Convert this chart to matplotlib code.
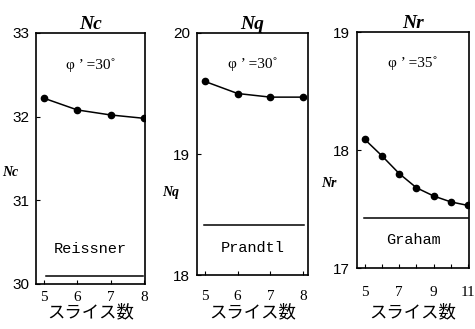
import matplotlib
matplotlib.use("Agg")
import matplotlib.pyplot as plt

# slice counts and bearing capacity factors
slices_c = [5, 6, 7, 8]
nc_vals = [32.22, 32.08, 32.02, 31.98]
nc_reissner = 30.09

slices_q = [5, 6, 7, 8]
nq_vals = [19.60, 19.50, 19.47, 19.47]
nq_prandtl = 18.41

slices_r = [5, 6, 7, 8, 9, 10, 11]
nr_vals = [18.09, 17.95, 17.80, 17.68, 17.61, 17.56, 17.53]
nr_graham = 17.42

xlabel = "スライス数"

panels = [
    dict(rect=[0.0758, 0.1368, 0.2295, 0.763], x=slices_c, y=nc_vals, ref=nc_reissner,
         ref_name="Reissner", ref_text_y=0.14, name="Nc", phi="φ ’ =30˚",
         ylim=(30, 33), yticks=[30, 31, 32, 33], xlim=(4.76, 8.03),
         xticks=[5, 6, 7, 8], xlabels=["5", "6", "7", "8"], ylab_pos=(-0.24, 0.446),
         line_x=(0.09, 0.98), xpad=5),
    dict(rect=[0.4147, 0.1641, 0.2337, 0.7356], x=slices_q, y=nq_vals, ref=nq_prandtl,
         ref_name="Prandtl", ref_text_y=0.11, name="Nq", phi="φ ’ =30˚",
         ylim=(18, 20), yticks=[18, 19, 20], xlim=(4.76, 8.15),
         xticks=[5, 6, 7, 8], xlabels=["5", "6", "7", "8"], ylab_pos=(-0.24, 0.343),
         line_x=(0.06, 0.96), xpad=11),
    dict(rect=[0.7516, 0.1854, 0.2358, 0.7173], x=slices_r, y=nr_vals, ref=nr_graham,
         ref_name="Graham", ref_text_y=0.12, name="Nr", phi="φ ’ =35˚",
         ylim=(17, 19), yticks=[17, 18, 19], xlim=(4.55, 11.05),
         xticks=[5, 6, 7, 8, 9, 10, 11], xlabels=["5", "", "7", "", "9", "", "11"],
         ylab_pos=(-0.25, 0.36), line_x=(0.06, 0.99), xpad=13),
]

fig = plt.figure(figsize=(4.75, 3.29), dpi=100)
jp = ["Noto Sans CJK JP", "DejaVu Sans"]
serif = "Liberation Serif"

for p in panels:
    ax = fig.add_axes(p["rect"])
    ax.plot(p["x"], p["y"], "-o", color="black", lw=1.1, ms=4.5)
    x0, x1 = p["xlim"]
    ax.plot([x0 + p["line_x"][0] * (x1 - x0), x0 + p["line_x"][1] * (x1 - x0)],
            [p["ref"], p["ref"]], color="black", lw=1.1)
    ax.set_xlim(*p["xlim"])
    ax.set_ylim(*p["ylim"])
    ax.set_xticks(p["xticks"])
    ax.set_xticklabels(p["xlabels"], fontfamily=serif, fontsize=11)
    ax.set_yticks(p["yticks"])
    ax.set_yticklabels([str(v) for v in p["yticks"]], fontfamily="Liberation Sans", fontsize=11)
    ax.tick_params(direction="in", length=3, width=0.8, pad=5)
    ax.tick_params(axis="x", pad=p["xpad"])
    for s in ax.spines.values():
        s.set_linewidth(1.2)
    ax.set_title(p["name"], fontfamily=serif, fontstyle="italic", fontweight="bold",
                 fontsize=14, pad=2)
    # x labels sit on one common line across the three panels
    cx = p["rect"][0] + p["rect"][2] / 2
    fig.text(cx, 0.05, xlabel, fontfamily=jp, fontsize=12.5, ha="center", va="center")
    ax.text(*p["ylab_pos"], p["name"], transform=ax.transAxes, fontfamily=serif,
            fontstyle="italic", fontweight="bold", fontsize=10, ha="center", va="center")
    ax.text(0.5, 0.87, p["phi"], transform=ax.transAxes, fontfamily=serif,
            fontsize=11, ha="center", va="center")
    ax.text(0.5, p["ref_text_y"], p["ref_name"], transform=ax.transAxes,
            fontfamily="Liberation Mono", fontsize=11, ha="center", va="center")

fig.savefig("out.png", dpi=100)
